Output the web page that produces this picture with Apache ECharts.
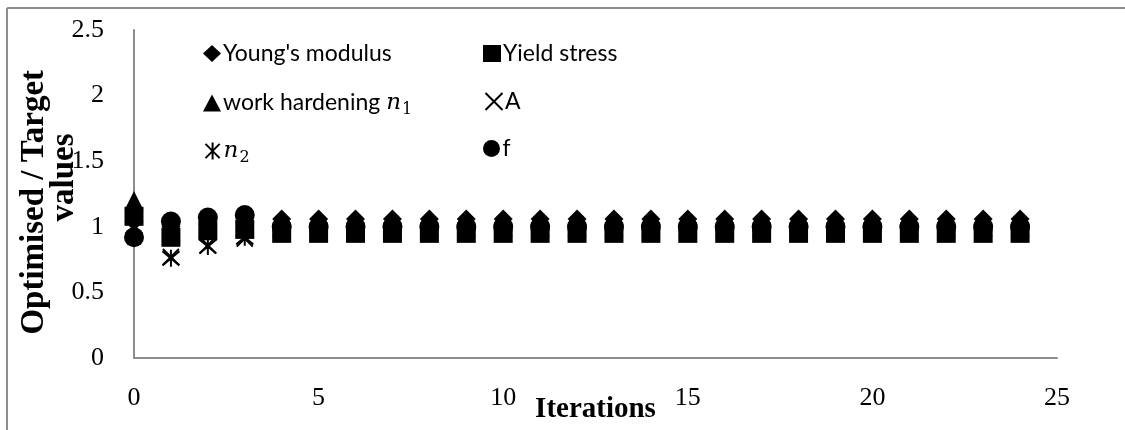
<!DOCTYPE html>
<html>
<head>
<meta charset="utf-8">
<script src="https://cdn.jsdelivr.net/npm/echarts@6/dist/echarts.min.js"></script>
<style>
  html, body { margin: 0; padding: 0; background: #fff; }
  #chart { width: 1125px; height: 430px; }
</style>
</head>
<body>
<div id="chart"></div>
<script>
// iterations 0..24
const iterations = [0, 1, 2, 3, 4, 5, 6, 7, 8, 9, 10, 11, 12, 13, 14, 15, 16, 17, 18, 19, 20, 21, 22, 23, 24]

const youngs = [1.04, 1.0, 1.02, 1.03, 1.06, 1.06, 1.06, 1.06, 1.06, 1.06, 1.06, 1.06, 1.06, 1.06, 1.06, 1.06, 1.06, 1.06, 1.06, 1.06, 1.06, 1.06, 1.06, 1.06, 1.06]
const yieldStress = [1.08, 0.92, 0.97, 0.98, 0.95, 0.95, 0.95, 0.95, 0.95, 0.95, 0.95, 0.95, 0.95, 0.95, 0.95, 0.95, 0.95, 0.95, 0.95, 0.95, 0.95, 0.95, 0.95, 0.95, 0.95]
const hardeningN1 = [1.2, 0.96, 0.99, 1.0, 1.0, 1.0, 1.0, 1.0, 1.0, 1.0, 1.0, 1.0, 1.0, 1.0, 1.0, 1.0, 1.0, 1.0, 1.0, 1.0, 1.0, 1.0, 1.0, 1.0, 1.0]
const valuesA = [1.0, 0.77, 0.86, 0.91, 0.98, 0.98, 0.98, 0.98, 0.98, 0.98, 0.98, 0.98, 0.98, 0.98, 0.98, 0.98, 0.98, 0.98, 0.98, 0.98, 0.98, 0.98, 0.98, 0.98, 0.98]
const valuesN2 = [1.0, 0.76, 0.85, 0.92, 0.98, 0.98, 0.98, 0.98, 0.98, 0.98, 0.98, 0.98, 0.98, 0.98, 0.98, 0.98, 0.98, 0.98, 0.98, 0.98, 0.98, 0.98, 0.98, 0.98, 0.98]
const valuesF = [0.92, 1.04, 1.07, 1.09, 1.0, 1.0, 1.0, 1.0, 1.0, 1.0, 1.0, 1.0, 1.0, 1.0, 1.0, 1.0, 1.0, 1.0, 1.0, 1.0, 1.0, 1.0, 1.0, 1.0, 1.0]

// legend layout: two columns, three rows
const legendCol1 = ["Young's modulus", 'work hardening n1', 'n2']
const legendCol2 = ['Yield stress', 'A', 'f']

const serif = '"Liberation Serif", "Times New Roman", serif'
const sans = 'Lato, "Open Sans", sans-serif'
const axisGray = '#8c8c8c'

const crossPath = 'path://M0,0L10,10M10,0L0,10'
const starPath = 'path://M0,1L10,11M10,1L0,11M5,0L5,12'

const chart = echarts.init(document.getElementById('chart'))

function pts(arr) {
  return iterations.map((x, i) => [x, arr[i]])
}

const solid = { color: '#000', opacity: 1 }
const stroked = { color: 'none', borderColor: '#000', borderWidth: 2, opacity: 1 }

// 图例文字，n1 / n2 用斜体加下标
function legendText(name) {
  if (name === 'work hardening n1') return '{t|work hardening }{m|n}{s|1}'
  if (name === 'n2') return '{m|n}{s|2}'
  return '{t|' + name + '}'
}
const legendRich = {
  t: { fontFamily: sans, fontSize: 23, color: '#000', lineHeight: 28 },
  m: { fontFamily: '"DejaVu Serif", serif', fontStyle: 'italic', fontSize: 23, color: '#000', lineHeight: 28 },
  s: { fontFamily: '"DejaVu Serif", serif', fontSize: 16, color: '#000', lineHeight: 20, padding: [14, 0, 0, 1] }
}

function makeLegend(name, left, top) {
  return {
    left: left,
    top: top,
    padding: 0,
    itemWidth: 18,
    itemHeight: 17,
    formatter: legendText,
    textStyle: { rich: legendRich, padding: [0, 0, 0, -3] },
    selectedMode: false,
    data: [name]
  }
}

const option = {
  animation: false,
  graphic: [
    { type: 'line', shape: { x1: 7, y1: 8, x2: 1125, y2: 8 }, style: { stroke: axisGray, lineWidth: 2 } },
    { type: 'line', shape: { x1: 7, y1: 8, x2: 7, y2: 430 }, style: { stroke: axisGray, lineWidth: 2 } }
  ],
  legend: legendCol1.map((n, i) => makeLegend(n, 203, [42, 88, 136][i]))
    .concat(legendCol2.map((n, i) => makeLegend(n, 483, [42, 90, 137][i]))),
  grid: { left: 134, right: 68, top: 30, bottom: 72, outerBoundsMode: 'none' },
  xAxis: {
    type: 'value',
    min: 0,
    max: 25,
    interval: 5,
    name: 'Iterations',
    nameLocation: 'middle',
    nameGap: 37,
    nameMoveOverlap: false,
    nameTextStyle: { fontFamily: serif, fontWeight: 'bold', fontSize: 29, color: '#000' },
    axisLine: { lineStyle: { color: axisGray, width: 2 } },
    axisTick: { show: false },
    splitLine: { show: false },
    axisLabel: { fontFamily: serif, fontSize: 26, color: '#000', margin: 27 }
  },
  yAxis: {
    type: 'value',
    min: 0,
    max: 2.5,
    interval: 0.5,
    name: 'Optimised / Target\u00a0\u00a0\n\u00a0\u00a0\u00a0\u00a0values',
    nameLocation: 'middle',
    nameGap: 55,
    nameMoveOverlap: false,
    nameTextStyle: { fontFamily: serif, fontWeight: 'bold', fontSize: 33, color: '#000', lineHeight: 30 },
    axisLine: { show: true, lineStyle: { color: axisGray, width: 2 } },
    axisTick: { show: false },
    splitLine: { show: false },
    axisLabel: { fontFamily: serif, fontSize: 26, color: '#000', margin: 30 }
  },
  series: [
    { name: "Young's modulus", type: 'scatter', symbol: 'diamond', symbolSize: 19, itemStyle: solid, data: pts(youngs) },
    { name: 'Yield stress', type: 'scatter', symbol: 'rect', symbolSize: 19, itemStyle: solid, data: pts(yieldStress) },
    { name: 'work hardening n1', type: 'scatter', symbol: 'triangle', symbolSize: 19, itemStyle: solid, data: pts(hardeningN1) },
    { name: 'A', type: 'scatter', symbol: crossPath, symbolSize: 16, itemStyle: stroked, data: pts(valuesA) },
    { name: 'n2', type: 'scatter', symbol: starPath, symbolSize: 17, itemStyle: stroked, data: pts(valuesN2) },
    { name: 'f', type: 'scatter', symbol: 'circle', symbolSize: 20, itemStyle: solid, data: pts(valuesF) }
  ]
}

chart.setOption(option)
</script>
</body>
</html>
